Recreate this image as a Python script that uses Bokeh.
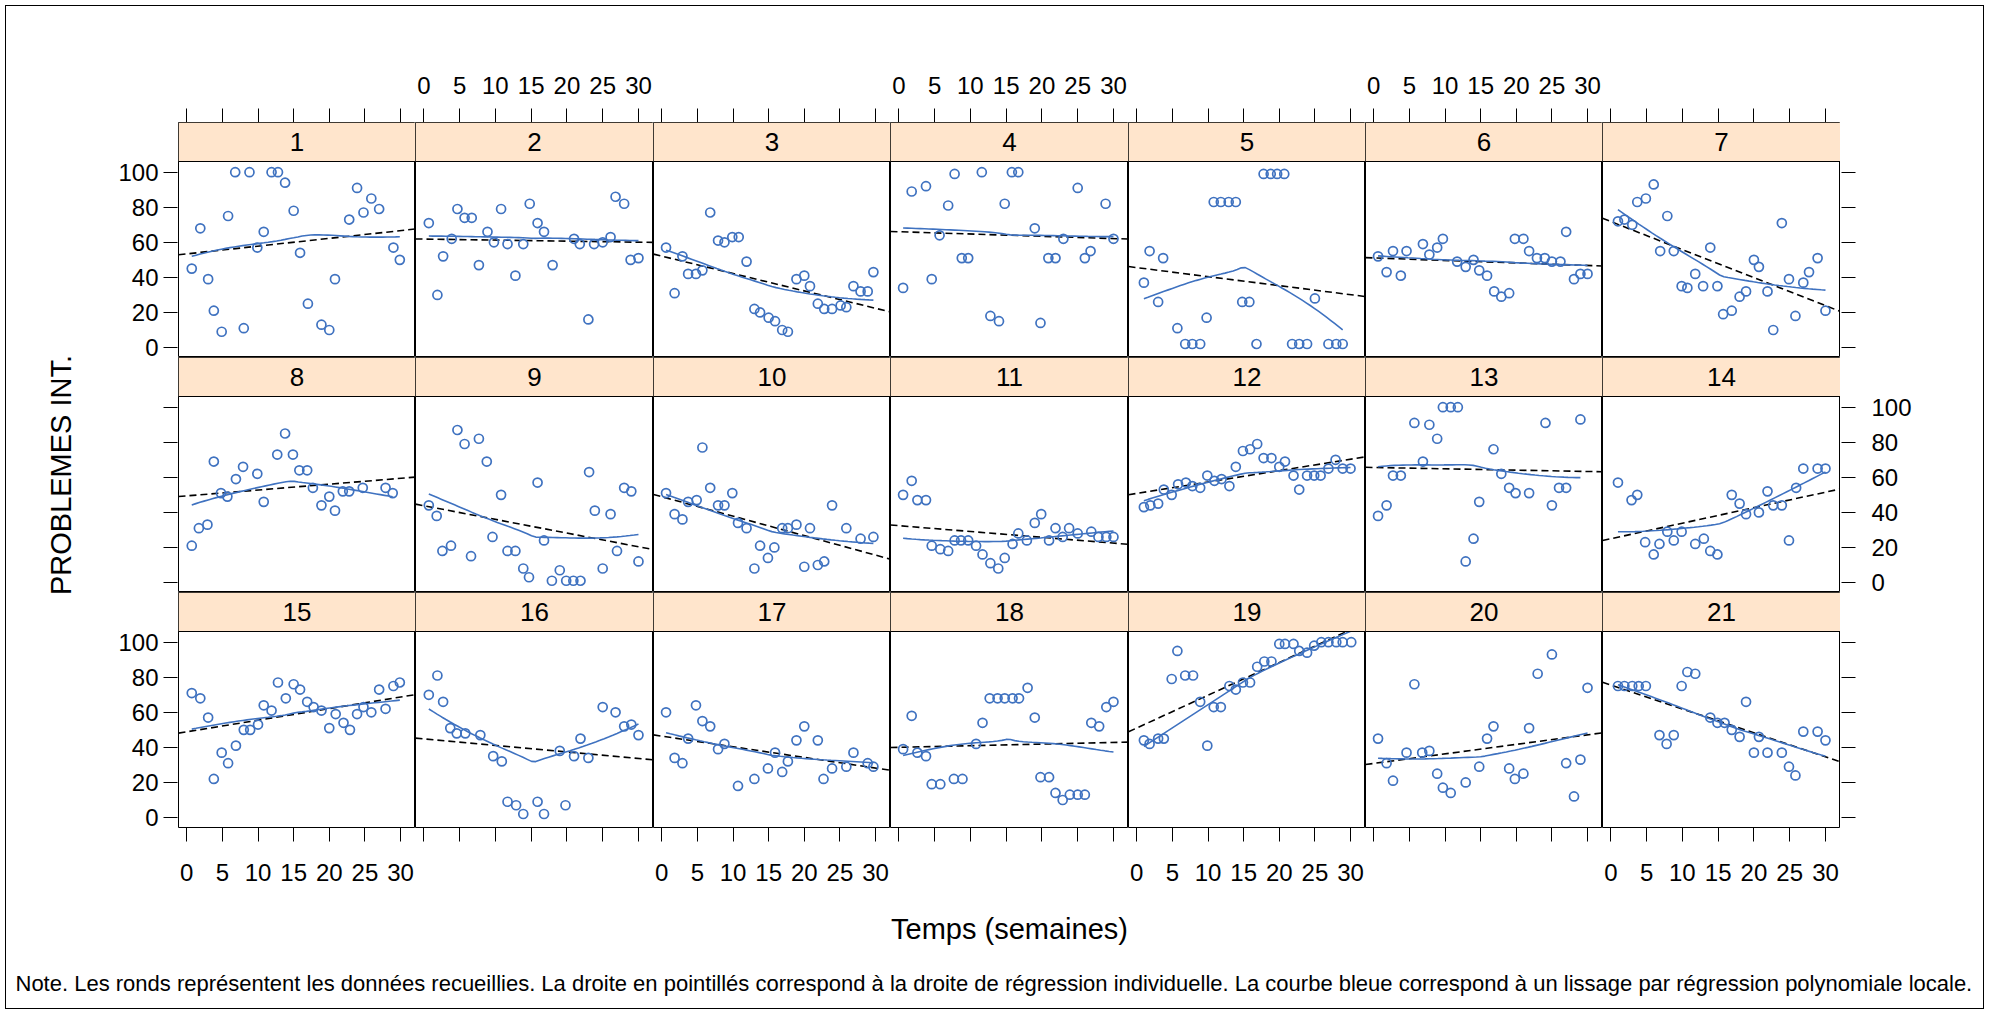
import math
import numpy as np
from bokeh.plotting import figure
from bokeh.layouts import row, column
from bokeh.models import Range1d, FixedTicker, LinearAxis, BoxAnnotation, Span, Label, Spacer
from bokeh.embed import file_html
from bokeh.resources import INLINE

# ---------------- data (weeks, score) per participant ----------------
x01 = [0.7,1.9,3.0,3.8,4.9,5.8,6.8,8.0,8.8,9.9,10.8,11.9,12.8,13.8,15.0,15.9,17.0,18.9,20.0,20.8,22.8,23.9,24.8,25.9,27.0,29.0,29.9]
y01 = [45,68,39,21,9,75,100,11,100,57,66,100,100,94,78,54,25,13,10,39,73,91,77,85,79,57,50]
x02 = [0.7,1.9,2.7,3.9,4.7,5.7,6.7,7.7,8.9,9.8,10.8,11.7,12.8,13.9,14.8,15.9,16.8,18.0,21.0,21.8,23.0,23.8,25.0,26.1,26.8,28.0,28.9,30.0]
y02 = [71,30,52,62,79,74,74,47,66,60,79,59,41,59,82,71,66,47,62,59,16,59,60,63,86,82,50,51]
x03 = [0.6,1.8,2.9,3.7,4.8,5.7,6.8,7.9,8.8,9.9,10.8,11.9,13.0,13.8,15.0,15.9,16.9,17.7,18.9,20.0,20.8,21.9,22.8,23.9,25.1,25.9,26.9,27.9,28.9,29.7]
y03 = [57,31,52,42,42,44,77,61,60,63,63,49,22,20,17,15,10,9,39,41,35,25,22,22,24,23,35,32,32,43]
x04 = [0.6,1.8,3.8,4.6,5.7,6.9,7.8,8.8,9.7,11.6,12.8,14.0,14.8,15.8,16.7,19.0,19.8,20.9,21.9,23.0,25.0,26.0,26.8,28.9,30.0]
y04 = [34,89,92,39,64,81,99,51,51,100,18,15,82,100,100,68,14,51,51,62,91,51,55,82,62]
x05 = [1.0,1.8,3.0,3.7,5.7,6.8,7.8,8.9,9.8,10.8,11.8,12.9,13.9,14.8,15.8,16.8,17.8,18.8,19.7,20.7,21.8,22.8,23.9,25.0,26.9,28.0,28.9]
y05 = [37,55,26,51,11,2,2,2,17,83,83,83,83,26,26,2,99,99,99,99,2,2,2,28,2,2,2]
x06 = [0.6,1.8,2.7,3.8,4.6,6.9,7.8,8.9,9.7,11.7,12.9,14.0,14.8,15.9,16.9,17.9,19.0,19.8,21.0,21.8,22.9,24.0,25.0,26.2,27.0,28.1,29.0,30.0]
y06 = [52,43,55,41,55,59,53,57,62,49,46,50,44,41,32,29,31,62,62,55,51,51,49,49,66,39,42,42]
x07 = [1.0,1.9,3.0,3.7,4.9,6.0,6.9,7.9,8.8,9.9,10.7,11.8,12.9,13.9,14.9,15.7,16.9,18.0,18.9,20.0,20.7,21.9,22.7,23.9,24.9,25.8,26.9,27.7,28.9,30.0]
y07 = [72,73,70,83,85,93,55,75,55,35,34,42,35,57,35,19,21,29,32,50,46,32,10,71,39,18,37,43,51,21]
x08 = [0.7,1.7,2.9,3.8,4.8,5.7,6.9,7.9,9.9,10.8,12.7,13.8,14.9,15.8,16.9,17.7,18.9,20.0,20.8,21.9,22.8,24.7,27.9,28.9]
y08 = [21,31,33,69,51,49,59,66,62,46,73,85,73,64,64,54,44,49,41,52,52,54,54,51]
x09 = [0.7,1.8,2.6,3.8,4.7,5.7,6.6,7.7,8.8,9.6,10.8,11.7,12.8,13.9,14.7,15.9,16.8,17.9,19.0,19.9,20.9,21.9,23.1,23.9,25.0,26.1,27.0,28.0,29.0,30.0]
y09 = [44,38,18,21,87,79,15,82,69,26,50,18,18,8,3,57,24,1,7,1,1,1,63,41,8,39,18,54,52,12]
x10 = [0.6,1.8,2.9,3.7,4.9,5.7,6.8,7.9,8.8,9.9,10.7,11.9,13.0,13.8,14.9,15.8,16.9,17.7,18.9,20.0,20.8,21.9,22.8,23.9,25.9,27.9,29.7]
y10 = [51,39,36,46,47,77,54,44,44,51,34,31,8,21,14,20,31,31,33,9,31,10,12,44,31,25,26]
x11 = [0.6,1.8,2.6,3.8,4.6,5.8,6.9,7.8,8.7,9.7,10.8,11.7,12.8,13.9,14.8,15.9,16.7,17.9,19.0,19.9,21.0,21.9,22.9,23.8,25.0,26.9,27.9,29.0,30.0]
y11 = [50,58,47,47,21,19,18,24,24,24,21,16,11,8,14,22,28,24,34,39,24,31,26,31,28,29,26,26,26]
x12 = [1.0,1.9,3.0,3.8,4.9,5.8,6.9,7.8,8.9,9.9,10.9,11.9,13.0,13.9,14.9,15.9,16.9,17.8,18.9,20.0,20.8,22.0,22.8,23.9,24.9,25.8,26.9,27.9,28.9,30.0]
y12 = [43,44,45,53,50,56,57,55,54,61,58,59,55,66,75,76,79,71,71,66,69,61,53,61,61,61,65,70,65,65]
x13 = [0.6,1.8,2.7,3.8,5.7,6.9,7.8,8.9,9.7,10.8,11.8,12.9,14.0,14.8,16.8,17.9,19.0,19.9,21.8,24.1,25.0,26.0,27.0,29.0]
y13 = [38,44,61,61,91,69,90,82,100,100,100,12,25,46,76,62,54,51,51,91,44,54,54,93]
x14 = [1.0,2.9,3.7,4.8,6.0,6.8,7.9,8.8,9.9,11.8,13.0,13.9,14.9,16.9,18.0,18.9,20.7,21.9,22.7,23.9,24.9,25.9,26.9,28.9,30.0]
y14 = [57,47,50,23,16,22,29,24,29,22,25,18,16,50,45,39,40,52,44,44,24,54,65,65,65]
x15 = [0.7,1.9,3.0,3.8,4.9,5.8,6.9,8.0,8.9,10.0,10.8,11.9,12.8,13.9,15.0,15.9,16.9,17.8,18.9,20.0,20.9,22.0,22.9,23.9,24.8,25.9,27.0,27.9,29.0,29.9]
y15 = [71,68,57,22,37,31,41,50,50,53,64,61,77,68,76,73,66,63,61,51,59,54,50,59,63,60,73,62,75,77]
x16 = [0.7,1.9,2.7,3.7,4.6,5.8,7.9,9.7,10.9,11.7,12.9,13.9,15.9,16.8,19.0,19.8,21.0,21.9,23.0,25.0,26.8,28.0,29.0,30.0]
y16 = [70,81,66,51,48,48,47,35,32,9,7,2,9,2,38,7,35,45,34,63,60,52,53,47]
x17 = [0.6,1.8,2.9,3.7,4.8,5.7,6.8,7.9,8.8,10.7,13.0,14.9,15.9,16.9,17.7,18.9,20.0,21.9,22.7,23.9,25.9,26.9,28.9,29.7]
y17 = [60,34,31,45,64,55,52,39,42,18,22,28,37,26,32,44,52,44,22,28,29,37,31,29]
x18 = [0.6,1.8,2.6,3.8,4.6,5.8,7.7,8.9,10.8,11.7,12.7,13.8,14.8,15.9,16.8,18.0,19.0,19.8,21.0,21.9,22.9,23.9,25.0,26.0,26.9,28.0,29.0,30.0]
y18 = [39,58,37,35,19,19,22,22,42,54,68,68,68,68,68,74,57,23,23,14,10,13,13,13,54,52,63,66]
x19 = [1.0,1.8,3.0,3.8,4.9,5.7,6.8,7.9,8.9,9.9,10.8,11.8,13.0,13.9,14.9,15.9,16.9,17.9,18.9,20.0,20.8,22.0,22.8,23.9,24.9,25.9,26.9,28.0,28.9,30.1]
y19 = [44,42,45,45,79,95,81,81,66,41,63,63,75,73,77,77,86,89,89,99,99,99,95,94,98,100,100,100,100,100]
x20 = [0.6,1.8,2.7,4.6,5.7,6.8,7.8,8.9,9.7,10.8,12.9,14.8,15.9,16.8,19.0,19.8,21.0,21.8,23.0,25.0,27.0,28.1,29.0,30.0]
y20 = [45,31,21,37,76,37,38,25,17,14,20,29,45,52,28,22,25,51,82,93,31,12,33,74]
x21 = [1.0,1.9,3.0,3.9,4.9,6.8,7.8,8.8,9.9,10.7,11.8,13.9,14.9,15.9,16.9,18.0,18.9,20.0,20.7,21.9,23.9,24.9,25.8,26.9,28.9,30.0]
y21 = [75,75,75,75,75,47,42,47,75,83,82,57,54,54,50,46,66,37,46,37,37,29,24,49,49,44]

panel_ids = [str(i) for i in range(1, 22)]
x_ticks = [0, 5, 10, 15, 20, 25, 30]
y_ticks = [0, 20, 40, 60, 80, 100]
x_title = "Temps (semaines)"
y_title = "PROBLEMES INT."
note_text = ("Note. Les ronds représentent les données recueillies. La droite en pointillés correspond "
             "à la droite de régression individuelle. La courbe bleue correspond à un lissage par "
             "régression polynomiale locale.")

XS = [x01, x02, x03, x04, x05, x06, x07, x08, x09, x10, x11, x12, x13, x14, x15, x16, x17, x18, x19, x20, x21]
YS = [y01, y02, y03, y04, y05, y06, y07, y08, y09, y10, y11, y12, y13, y14, y15, y16, y17, y18, y19, y20, y21]

# ---------------- styling / layout ----------------
FONT = "Liberation Sans"
BLUE = "#3F72C0"
STRIP = "#FFE5CC"
XR = (-1.16, 32.1)
Y_LO, Y_HI = -5.7, 106.1
STRIP_PX, PANEL_PX = 39, 196
ROW_PX = STRIP_PX + PANEL_PX
Y_TOP = Y_HI + (Y_HI - Y_LO) * STRIP_PX / PANEL_PX
ROW_U = Y_TOP - Y_LO
COL_W = [237, 238, 237, 238, 237, 237, 238]
OFF = 6                      # framed page starts at (6, 6); outline drawn at 5
PAGE_W, PAGE_H = 1983 - OFF, 1008 - OFF
LEFT_W = 178 - OFF
RIGHT_W = PAGE_W - LEFT_W - sum(COL_W)
TB, BB = 122 - OFF, 63
GRID_H = TB + 3 * ROW_PX + BB
BOTTOM_H = PAGE_H - GRID_H
TICK_FS = "24px"
TITLE_FS = "29px"
TICK_LEN = 14
SPAN = 1.0


def loess_fit(x, y, xe, span=SPAN, iterations=4):
    x = np.asarray(x, float)
    y = np.asarray(y, float)
    n = len(x)
    q = int(math.floor(n * min(span, 1.0)))
    rw = np.ones(n)

    def fit_at(x0, rw):
        d = np.abs(x - x0)
        h = max(np.sort(d)[q - 1], 1e-9)
        if span > 1:
            h *= span
        h *= 1.0001
        u = d / h
        w = np.where(u < 1, (1 - u ** 3) ** 3, 0.0) * rw
        sw = w.sum()
        xm = (w * x).sum() / sw
        ym = (w * y).sum() / sw
        sxx = (w * (x - xm) ** 2).sum()
        b = (w * (x - xm) * (y - ym)).sum() / sxx if sxx > 1e-12 else 0.0
        return ym + b * (x0 - xm)

    for it in range(iterations):
        fitted = np.array([fit_at(xi, rw) for xi in x])
        if it < iterations - 1:
            res = y - fitted
            s = np.median(np.abs(res))
            if s <= 0:
                break
            u = res / (6 * s)
            rw = np.where(np.abs(u) < 1, (1 - u ** 2) ** 2, 0.0)
    return np.array([fit_at(x0, rw) for x0 in xe])


def style_axis(ax, standoff):
    ax.axis_line_color = None
    ax.major_tick_out = TICK_LEN
    ax.major_tick_in = 0
    ax.minor_tick_out = 0
    ax.minor_tick_in = 0
    ax.major_tick_line_color = "black"
    ax.major_tick_line_width = 1
    ax.major_label_text_font = FONT
    ax.major_label_text_font_size = TICK_FS
    ax.major_label_text_color = "black"
    ax.major_label_standoff = standoff


def bare_figure(width, height, xr, yr, bl=0, br=0, bt=0, bb=0):
    f = figure(width=width, height=height, x_range=xr, y_range=yr,
               output_backend="svg", toolbar_location=None,
               x_axis_location=None, y_axis_location=None,
               min_border_left=bl, min_border_right=br,
               min_border_top=bt, min_border_bottom=bb)
    f.grid.visible = False
    f.background_fill_color = "white"
    f.border_fill_color = "white"
    return f


def make_panel(k):
    r, c = divmod(k, 7)
    xs, ys = XS[k], YS[k]
    bt = TB if r == 0 else 0
    bb = BB if r == 2 else 0
    p = bare_figure(COL_W[c], ROW_PX + bt + bb, Range1d(*XR), Range1d(Y_LO, Y_TOP), bt=bt, bb=bb)
    p.outline_line_color = "black"
    p.outline_line_width = 1

    # x axes (lattice-style alternating labels)
    if r in (0, 2):
        ax = LinearAxis(ticker=FixedTicker(ticks=x_ticks))
        style_axis(ax, 15 if r == 0 else 22)
        show = (c % 2 == 1) if r == 0 else (c % 2 == 0)
        if not show:
            ax.major_label_text_color = None
        p.add_layout(ax, "above" if r == 0 else "below")

    xa = np.asarray(xs, float)
    ya = np.asarray(ys, float)
    # individual regression line (dashed)
    b1, b0 = np.polyfit(xa, ya, 1)
    p.line([XR[0], XR[1]], [b0 + b1 * XR[0], b0 + b1 * XR[1]],
           line_color="black", line_width=1.6, line_dash="7 4")
    # local polynomial smooth
    xe = np.linspace(xa.min(), xa.max(), 50)
    p.line(xe, loess_fit(xa, ya, xe), line_color=BLUE, line_width=1.6)
    # observations
    p.scatter(xs, ys, marker="circle", size=9, fill_color=None,
              line_color=BLUE, line_width=1.7)

    # strip
    p.add_layout(BoxAnnotation(bottom=Y_HI, top=Y_TOP, left=XR[0], right=XR[1],
                               fill_color=STRIP, fill_alpha=1.0, line_color=None))
    p.add_layout(Span(location=Y_HI, dimension="width", line_color="black", line_width=1))
    p.add_layout(Label(x=(XR[0] + XR[1]) / 2, y=(Y_HI + Y_TOP) / 2, text=panel_ids[k],
                       text_align="center", text_baseline="middle",
                       text_font=FONT, text_font_size="26px", text_color="black"))
    return p


def y_axis_fig(side, label_rows, standoff, title=None):
    w = LEFT_W if side == "left" else RIGHT_W
    bl, br = (w - 1, 0) if side == "left" else (0, w - 1)
    f = bare_figure(w, GRID_H, Range1d(0, 1), Range1d(Y_TOP - 3 * ROW_U, Y_TOP),
                    bl=bl, br=br, bt=TB, bb=BB)
    f.outline_line_color = None
    ticks, overrides = [], {}
    for r in range(3):
        for v in y_ticks:
            t = round(v - r * ROW_U, 6)
            ticks.append(t)
            overrides[t] = str(v) if r in label_rows else ""
    ax = LinearAxis(ticker=FixedTicker(ticks=ticks), major_label_overrides=overrides)
    style_axis(ax, standoff)
    if title:
        ax.axis_label = title
        ax.axis_label_text_font = FONT
        ax.axis_label_text_font_size = TITLE_FS
        ax.axis_label_text_font_style = "normal"
        ax.axis_label_text_color = "black"
        ax.axis_label_standoff = 38
    f.add_layout(ax, side)
    return f


panels = [make_panel(k) for k in range(21)]
left_fig = y_axis_fig("left", (0, 2), 5, y_title)
right_fig = y_axis_fig("right", (1,), 16)

bottom_fig = bare_figure(PAGE_W, BOTTOM_H, Range1d(0, PAGE_W), Range1d(0, BOTTOM_H))
bottom_fig.outline_line_color = None
bottom_fig.add_layout(Label(x=1009 - OFF, y=BOTTOM_H - 38.5, text=x_title,
                            text_align="center", text_baseline="middle",
                            text_font=FONT, text_font_size=TITLE_FS, text_color="black"))
bottom_fig.add_layout(Label(x=15 - OFF, y=BOTTOM_H - 93, text=note_text,
                            text_align="left", text_baseline="middle",
                            text_font=FONT, text_font_size="22px", text_color="black"))

cols = [column(*[panels[r * 7 + c] for r in range(3)]) for c in range(7)]
page = column(row(left_fig, *cols, right_fig), bottom_fig,
              styles={"outline": "1px solid black"})
root = column(Spacer(width=PAGE_W + OFF, height=OFF),
              row(Spacer(width=OFF, height=PAGE_H), page))

open("out.html", "w").write(file_html(root, INLINE))
